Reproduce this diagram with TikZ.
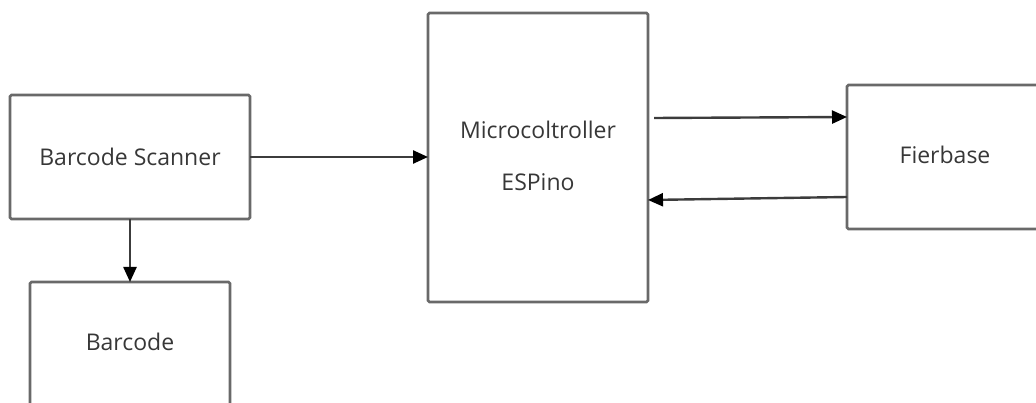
\documentclass[tikz,border=0pt]{standalone}
\usepackage{fontspec}
\setmainfont{Open Sans}
\usetikzlibrary{arrows.meta}
\definecolor{edge}{RGB}{105,105,105}
\definecolor{wire}{RGB}{60,60,60}
\definecolor{txt}{RGB}{55,55,55}
\begin{document}
\begin{tikzpicture}[x=1pt,y=-1pt,
  block/.style={draw=edge,line width=2.6pt,rounded corners=1.5pt},
  lbl/.style={text=txt,font=\fontsize{23}{28}\selectfont,inner sep=0pt},
  conn/.style={draw=wire,line width=2.4pt,-{Triangle[length=15pt,width=13pt,black]}}]
\useasboundingbox (0,0) rectangle (1036,403);
% boxes
\draw[block] (10,95) rectangle (250,219);
\node[lbl] (bs) at (130,157) {Barcode Scanner};
\coordinate (bsE) at (250,157);
\coordinate (bsS) at (130,219);
\draw[block] (30,420) -- (30,282) -- (230,282) -- (230,420);
\node[lbl] (bc) at (130,342) {Barcode};
\coordinate (bcN) at (130,282);
\draw[block] (428,13) rectangle (648,302);
\node[lbl] (m1) at (538,130) {Microcoltroller};
\node[lbl] (m2) at (538,182) {ESPino};
\coordinate (mW) at (428,157);
\coordinate (mE1) at (654,118);
\coordinate (mE2) at (648,200);
\draw[block] (1050,85) -- (847,85) -- (847,229) -- (1050,229);
\node[lbl] (fb) at (945,155) {Fierbase};
\coordinate (fW1) at (847,117);
\coordinate (fW2) at (847,197);
% connectors
\draw[conn] (bsE) -- (mW);
\draw[conn] (bsS) -- (bcN);
\draw[conn] (mE1) -- (fW1);
\draw[conn] (fW2) -- (mE2);
\end{tikzpicture}
\end{document}
